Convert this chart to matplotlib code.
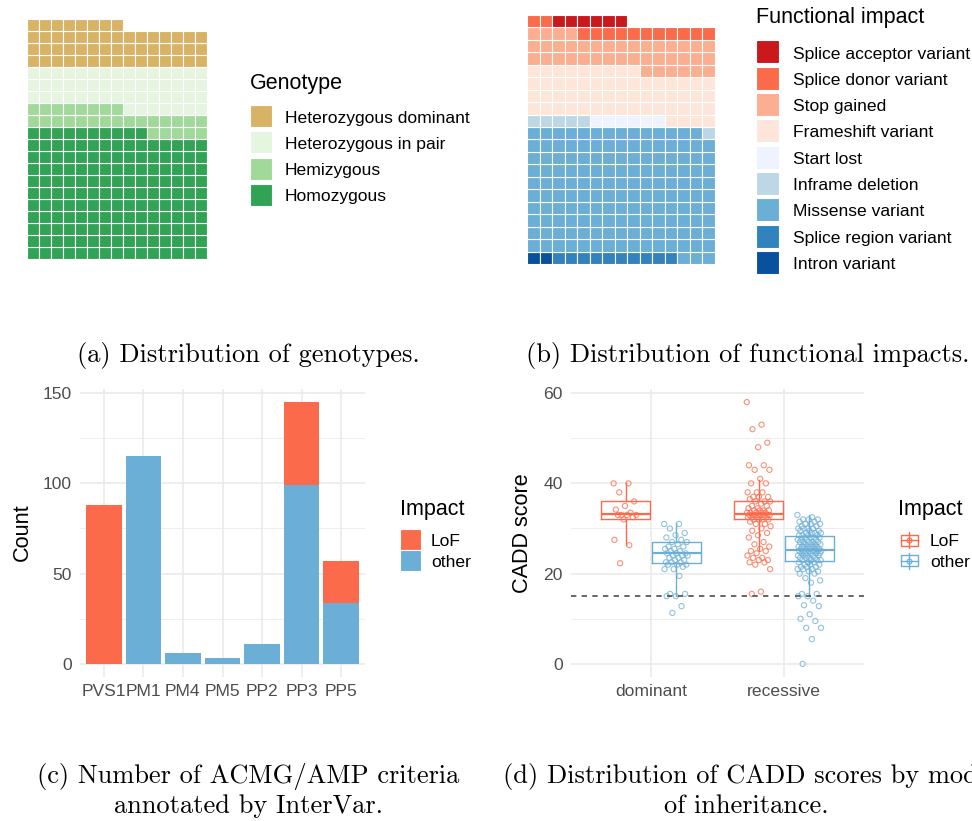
import numpy as np
import matplotlib
matplotlib.use('Agg')
import matplotlib.pyplot as plt
from matplotlib.patches import Rectangle
from matplotlib.lines import Line2D

plt.rcParams['font.family'] = ['Liberation Sans', 'DejaVu Sans']

W, H = 972, 821

# ---- data ----
genotypes = ['Heterozygous dominant', 'Heterozygous in pair', 'Hemizygous', 'Homozygous']
genotype_counts = [53, 52, 28, 160]
genotype_colors = ['#D8B365', '#E5F5E0', '#A1D99B', '#31A354']

impacts = ['Splice acceptor variant', 'Splice donor variant', 'Stop gained',
           'Frameshift variant', 'Start lost', 'Inframe deletion',
           'Missense variant', 'Splice region variant', 'Intron variant']
impact_counts = [6, 13, 40, 58, 6, 6, 152, 10, 2]
impact_colors = ['#CB181D', '#FB6A4A', '#FCAE91', '#FEE5D9', '#EFF3FF',
                 '#BDD7E7', '#6BAED6', '#3182BD', '#08519C']

criteria = ['PVS1', 'PM1', 'PM4', 'PM5', 'PP2', 'PP3', 'PP5']
crit_other = [0, 115, 6, 3, 11, 99, 34]
crit_lof = [88, 0, 0, 0, 0, 46, 23]

impact_groups = ['LoF', 'other']
impact_group_colors = ['#FB6A4A', '#6BAED6']

modes = ['dominant', 'recessive']
# box stats [mode][impact group]
box_q1 = [[32.1, 22.4], [32.1, 22.8]]
box_med = [[33.2, 24.5], [33.2, 25.2]]
box_q3 = [[36.1, 26.9], [36.1, 28.3]]
box_lo = [[26.3, 15.0], [25.0, 15.4]]
box_hi = [[40.0, 31.3], [40.7, 33.0]]

cadd_dom_lof = [40, 40, 38, 36, 35, 34.2, 33.5, 33, 33, 33, 33, 32.5, 32, 27.5, 26.3, 22.3]
cadd_dom_other = [31, 31, 30, 29, 28.5, 28, 27.5, 27, 27, 26.5, 26, 26, 25.5, 25.5, 25, 25,
                  24.5, 24.5, 24.5, 24, 24, 24, 23.5, 23.5, 23, 23, 22.5, 22.5, 22.5, 22,
                  22, 22, 21.5, 21, 21, 19.5, 15.5, 15.5, 15, 15, 12.8, 11.3]
cadd_rec_lof = [58, 53, 52, 49, 48, 44, 44, 43, 43, 41, 40, 40, 38, 38, 38, 37, 37, 37,
                36.5, 36, 36, 36, 35.5, 35, 35, 34.5, 34.5, 34, 34, 34, 34, 33.5, 33.5,
                33.5, 33.5, 33.5, 33, 33, 33, 33, 33, 33, 33, 33, 32.5, 32.5, 32.5, 32.5,
                32, 32, 32, 32, 31.5, 31, 31, 30.5, 30, 29.5, 29, 28.5, 28, 27, 26.5, 26,
                25.5, 25, 25, 24.5, 24, 23.5, 23.5, 23, 23, 22.5, 22.5, 22, 21, 16, 15.5]
cadd_rec_other = [33, 32.5, 32, 32, 32, 31.5, 31.5, 31, 31, 31, 30.5, 30.5, 30, 30, 30, 30,
                  29.5, 29.5, 29.5, 29, 29, 29, 29, 28.5, 28.5, 28.5, 28.5, 28, 28, 28, 28,
                  27.5, 27.5, 27.5, 27.5, 27, 27, 27, 27, 27, 26.5, 26.5, 26.5, 26.5, 26,
                  26, 26, 26, 26, 26, 25.5, 25.5, 25.5, 25.5, 25.5, 25, 25, 25, 25, 25, 25,
                  25, 24.5, 24.5, 24.5, 24.5, 24.5, 24, 24, 24, 24, 24, 23.5, 23.5, 23.5,
                  23.5, 23, 23, 23, 23, 22.5, 22.5, 22.5, 22, 22, 22, 21.5, 21.5, 21.5, 21,
                  21, 21, 20.5, 20.5, 20, 20, 19, 18.5, 18, 15.5, 15.5, 15, 15, 14, 13,
                  12.8, 11, 10, 9.5, 8, 8, 5.5, 0]
cadd_scores = [[cadd_dom_lof, cadd_dom_other], [cadd_rec_lof, cadd_rec_other]]
cadd_threshold = 15

GREY_TXT = '#4D4D4D'
GRID = '#EBEBEB'


def fx(x):
    return x / W


def fy(y):
    return 1 - y / H


fig = plt.figure(figsize=(W / 100, H / 100), dpi=100)


def waffle(ax, counts, colors, ncol=15, nrow=20):
    order = np.arange(len(counts))[::-1]
    cats = np.repeat(order, np.array(counts)[order])
    idx = np.arange(len(cats))
    ax.bar(idx % ncol + 0.5, 1, bottom=idx // ncol, width=1,
           color=np.array(colors)[cats], edgecolor='white', linewidth=0.8)
    ax.set_xlim(0, ncol)
    ax.set_ylim(0, nrow)
    ax.axis('off')


def square_legend(title, labels, colors, x, ytitle, y0, step, tx, key=22):
    fig.text(fx(x), fy(ytitle), title, fontsize=15.5, va='center', ha='left')
    for i, (lab, c) in enumerate(zip(labels, colors)):
        yc = y0 + i * step
        fig.add_artist(Rectangle((fx(x), fy(yc + key / 2)), key / W, key / H,
                                 transform=fig.transFigure, facecolor=c,
                                 edgecolor='white', lw=0.8))
        fig.text(fx(tx), fy(yc + 2), lab, fontsize=12.6, va='center', ha='left')


def caption(lines, xc, y0, dy=30):
    for i, s in enumerate(lines):
        fig.text(fx(xc), fy(y0 + i * dy), s, family='cmr10', fontsize=19,
                 ha='center', va='center')


# (a) genotype waffle
axa = fig.add_axes([fx(27), fy(259), 180 / W, 240 / H])
waffle(axa, genotype_counts, genotype_colors)
square_legend('Genotype', genotypes, genotype_colors, 250, 83, 116, 26.3, 285)
caption(['(a) Distribution of genotypes.'], 248, 355)

# (b) functional impact waffle
axb = fig.add_axes([fx(527), fy(264), 188 / W, 249 / H])
waffle(axb, impact_counts, impact_colors)
square_legend('Functional impact', impacts, impact_colors, 756, 17, 52, 26.3, 793, key=23)
caption(['(b) Distribution of functional impacts.'], 748, 355)


def style_axes(ax):
    for s in ax.spines.values():
        s.set_visible(False)
    ax.tick_params(length=0, labelsize=12.6, labelcolor=GREY_TXT)
    ax.tick_params(axis='y', pad=6)
    ax.tick_params(axis='x', pad=5)
    ax.grid(True, which='major', color=GRID, lw=1.2)
    ax.grid(True, which='minor', axis='y', color=GRID, lw=0.6)
    ax.tick_params(which='minor', length=0)
    ax.set_axisbelow(True)


# (c) ACMG/AMP criteria bars
axc = fig.add_axes([fx(80), fy(677), 285 / W, 288 / H])
xc = np.arange(len(criteria))
axc.bar(xc, crit_other, width=0.9, color=impact_group_colors[1])
axc.bar(xc, crit_lof, bottom=crit_other, width=0.9, color=impact_group_colors[0])
axc.set_xlim(-0.6, len(criteria) - 0.4)
axc.set_ylim(-7.25, 152.25)
axc.set_xticks(xc, criteria)
axc.set_yticks([0, 50, 100, 150])
axc.set_yticks([25, 75, 125], minor=True)
style_axes(axc)
fig.text(fx(22), fy(532), 'Count', rotation=90, fontsize=15.6, ha='center', va='center')
square_legend('Impact', impact_groups, impact_group_colors, 400, 509, 539, 21, 431, key=21)
caption(['(c) Number of ACMG/AMP criteria', 'annotated by InterVar.'], 248, 776)

# (d) CADD scores box + jitter
axd = fig.add_axes([fx(571), fy(677), 293 / W, 288 / H])
offsets = [-0.19, 0.19]
for m in range(len(modes)):
    for g in range(len(impact_groups)):
        col = impact_group_colors[g]
        pos = m + 1 + offsets[g]
        stats = [dict(med=box_med[m][g], q1=box_q1[m][g], q3=box_q3[m][g],
                      whislo=box_lo[m][g], whishi=box_hi[m][g], fliers=[])]
        axd.bxp(stats, positions=[pos], widths=0.37, showcaps=False,
                boxprops=dict(color=col, lw=1.0),
                medianprops=dict(color=col, lw=1.6),
                whiskerprops=dict(color=col, lw=1.0), manage_ticks=False)
        vals = np.array(cadd_scores[m][g])
        jit = ((np.arange(len(vals)) * 0.618034) % 1 - 0.5) * 0.18
        axd.scatter(pos + jit, vals, s=14, facecolors='none', edgecolors=col,
                    linewidths=0.8, alpha=0.75, zorder=3)
axd.axhline(cadd_threshold, color=GREY_TXT, lw=1.2, ls=(0, (3.2, 3.2)), zorder=4)
axd.set_xlim(0.4, 2.6)
axd.set_ylim(-2.9, 60.9)
axd.set_xticks([1, 2], modes)
axd.set_yticks([0, 20, 40, 60])
axd.set_yticks([10, 30, 50], minor=True)
style_axes(axd)
fig.text(fx(522), fy(533), 'CADD score', rotation=90, fontsize=15.6, ha='center', va='center')

fig.text(fx(898), fy(509), 'Impact', fontsize=15.5, va='center', ha='left')
for i, (lab, col) in enumerate(zip(impact_groups, impact_group_colors)):
    yc = 540 + i * 21
    xk = 909
    fig.add_artist(Line2D([fx(xk), fx(xk)], [fy(yc - 8), fy(yc + 8)],
                          transform=fig.transFigure, color=col, lw=1.0))
    fig.add_artist(Rectangle((fx(xk - 8.5), fy(yc + 5.5)), 17 / W, 11 / H,
                             transform=fig.transFigure, facecolor='white',
                             edgecolor=col, lw=1.0))
    fig.add_artist(Line2D([fx(xk - 8.5), fx(xk + 8.5)], [fy(yc), fy(yc)],
                          transform=fig.transFigure, color=col, lw=1.0))
    fig.add_artist(Line2D([fx(xk)], [fy(yc)], transform=fig.transFigure,
                          marker='o', ms=3.5, mfc='none', mec=col, mew=0.8, ls=''))
    fig.text(fx(930), fy(yc + 1), lab, fontsize=12.6, va='center', ha='left')
# the reference caption runs past the right edge of the figure
caption(['(d) Distribution of CADD scores by mode', 'of inheritance.'], 746, 776)

fig.savefig('out.png', dpi=100)
